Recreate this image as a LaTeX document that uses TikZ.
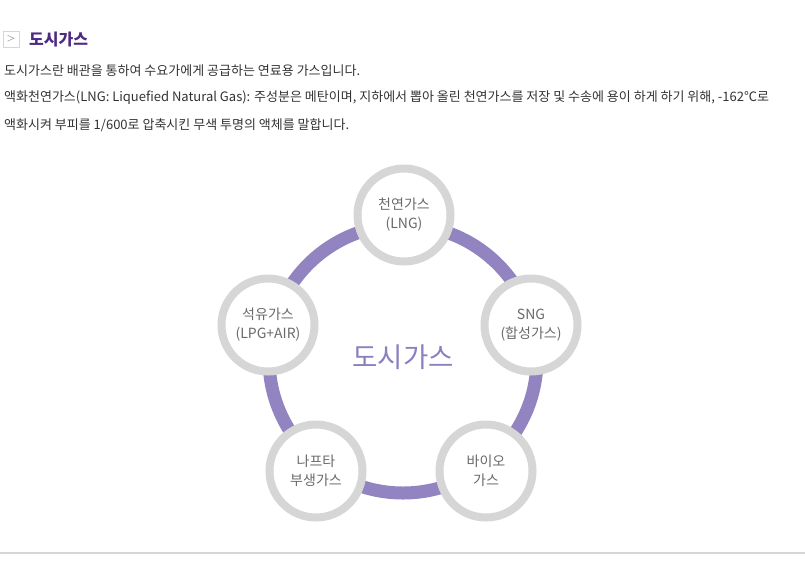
\documentclass[tikz,border=0pt]{standalone}
\usepackage{fontspec}
\setmainfont{Noto Sans CJK KR}
\newfontfamily\krfont{Noto Sans CJK KR}
\definecolor{ringpurple}{HTML}{9184C1}
\definecolor{circgray}{HTML}{D6D6D6}
\definecolor{labgray}{HTML}{6A6A6A}
\definecolor{headpurple}{HTML}{4E2A84}
\definecolor{centerpurple}{HTML}{8C7FC0}
\definecolor{bodytext}{HTML}{333333}
\begin{document}
\begin{tikzpicture}[x=1pt,y=-1pt,
  bodyline/.style={anchor=west,inner sep=0pt,text=bodytext,font=\krfont\fontsize{13}{15}\selectfont},
  gasnode/.style={circle,draw=circgray,line width=8pt,fill=white,minimum size=93pt,inner sep=0pt,
     align=center,text=labgray,font=\krfont\fontsize{14}{19}\selectfont}]
\useasboundingbox[fill=white] (0,0) rectangle (805,582);
% header icon
\node[draw=circgray,line width=1pt,minimum size=16pt,inner sep=0pt,text=labgray,
  font=\fontsize{11}{11}\selectfont] (icon) at (11,39) {$>$};
\node[anchor=west,inner sep=0pt,text=headpurple,font=\krfont\bfseries\fontsize{16}{18}\selectfont] (head) at (29,40) {도시가스};
% body text
\node[bodyline] (l1) at (4,71) {도시가스란 배관을 통하여 수요가에게 공급하는 연료용 가스입니다.};
\node[bodyline] (l2) at (4,97.5) {액화천연가스(LNG: Liquefied Natural Gas): 주성분은 메탄이며, 지하에서 뽑아 올린 천연가스를 저장 및 수송에 용이 하게 하기 위해, -162℃로};
\node[bodyline] (l3) at (4,125) {액화시켜 부피를 1/600로 압축시킨 무색 투명의 액체를 말합니다.};
% ring
\draw[ringpurple,line width=13pt] (403,359) circle (134);
\node[text=centerpurple,font=\krfont\fontsize{27.5}{30}\selectfont] (center) at (403,357) {도시가스};
% circles
\node[gasnode] (lng) at (404,215) {천연가스\\(LNG)};
\node[gasnode] (sng) at (531,325) {SNG\\(합성가스)};
\node[gasnode] (bio) at (486,471) {바이오\\가스};
\node[gasnode] (nap) at (316,471) {나프타\\부생가스};
\node[gasnode] (lpg) at (268,325) {석유가스\\(LPG+AIR)};
% bottom rule
\draw[circgray,line width=1.5pt] (0,553) -- (805,553);
\end{tikzpicture}
\end{document}
